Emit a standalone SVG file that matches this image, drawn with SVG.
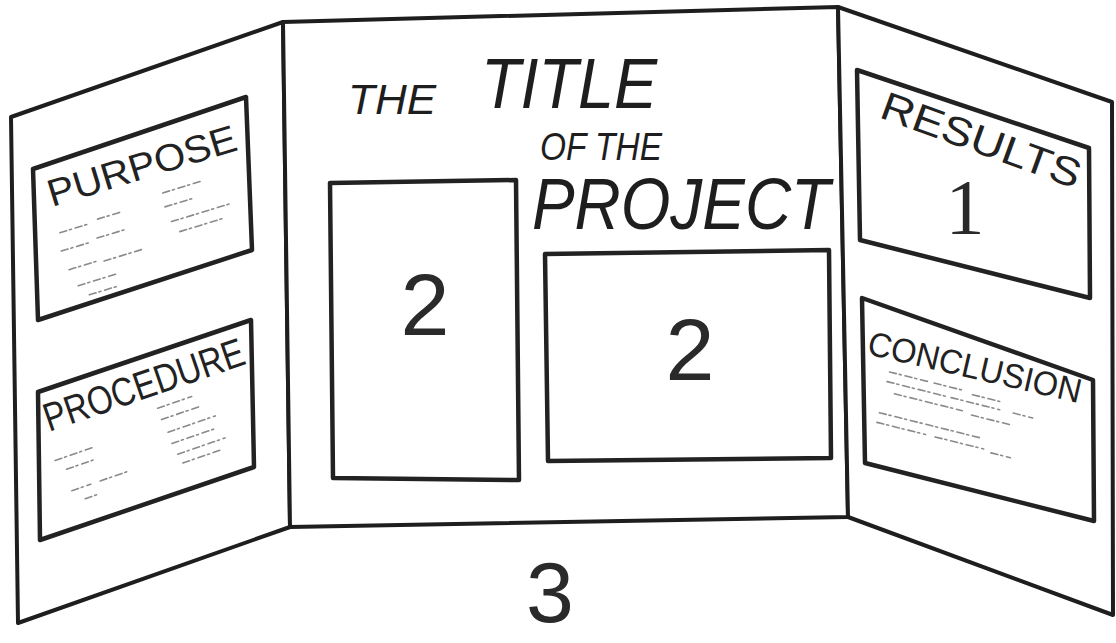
<svg xmlns="http://www.w3.org/2000/svg" width="1116" height="643" viewBox="0 0 1116 643">
  <style>
    .edge { fill: #ffffff; stroke: #1e1e1e; stroke-width: 4; stroke-linejoin: round; }
    .box { fill: #ffffff; stroke: #222222; stroke-width: 4.5; stroke-linejoin: round; }
    .lbl { font-family: "Liberation Sans", Arial, sans-serif; fill: #222222; }
    .hand { font-family: "Liberation Sans", Arial, sans-serif; font-style: italic; fill: #1e1e1e; }
    .num { font-family: "Liberation Sans", Arial, sans-serif; fill: #2a2a2a; }
    .scrib { fill: none; stroke: #8a8a8a; stroke-width: 1.6; stroke-dasharray: 7 3 2 4; stroke-linecap: round; }
  </style>
  <rect x="0" y="0" width="1116" height="643" fill="#ffffff"/>

  <g id="panel-left">
    <polygon class="edge" points="11,117 283,22 290,527 18,623"/>
    <g id="box-purpose">
      <polygon class="box" points="33,169 246,97 252,250 38,320"/>
      <text class="lbl" x="0" y="0" font-size="38" textLength="196" lengthAdjust="spacingAndGlyphs" transform="translate(52,207) rotate(-17)">PURPOSE</text>
      <g transform="translate(48,228) rotate(-17)">
        <path class="scrib" d="M10,8 h30 M50,6 h25 M120,0 h40 M118,14 h30 M6,26 h28 M44,24 h30 M120,30 h60 M125,42 h48 M8,46 h30 M44,48 h40 M12,64 h40 M20,76 h30"/>
      </g>
    </g>
    <g id="box-procedure">
      <polygon class="box" points="38,392 251,320 254,467 40,540"/>
      <text class="lbl" x="0" y="0" font-size="40" textLength="210" lengthAdjust="spacingAndGlyphs" transform="translate(49,432) rotate(-19)">PROCEDURE</text>
      <g transform="translate(50,458) rotate(-19)">
        <path class="scrib" d="M4,4 h40 M12,16 h30 M10,38 h20 M40,38 h30 M20,50 h12 M118,-12 h36 M118,0 h40 M120,14 h50 M120,26 h48 M122,38 h50 M124,48 h40"/>
      </g>
    </g>
  </g>

  <g id="panel-center">
    <polygon class="edge" points="283,22 838,7 848,517 290,527"/>
    <g id="title">
      <text class="hand" x="348" y="114" font-size="42" textLength="88" lengthAdjust="spacingAndGlyphs">THE</text>
      <text class="hand" x="481" y="108" font-size="70" textLength="176" lengthAdjust="spacingAndGlyphs">TITLE</text>
      <text class="hand" x="540" y="160" font-size="38" textLength="122" lengthAdjust="spacingAndGlyphs">OF THE</text>
      <text class="hand" x="532" y="229" font-size="72" textLength="298" lengthAdjust="spacingAndGlyphs">PROJECT</text>
    </g>
    <g id="box-tall">
      <polygon class="box" points="330,183 516,180 519,480 333,478"/>
      <text class="num" x="425" y="335" font-size="88" text-anchor="middle">2</text>
    </g>
    <g id="box-wide">
      <polygon class="box" points="545,254 829,250 831,458 548,461"/>
      <text class="num" x="690" y="380" font-size="88" text-anchor="middle">2</text>
    </g>
    <text id="label-3" class="num" x="550" y="622" font-size="86" text-anchor="middle">3</text>
  </g>

  <g id="panel-right">
    <polygon class="edge" points="838,7 1112,102 1113,615 848,517"/>
    <g id="box-results">
      <polygon class="box" points="857,70 1089,148 1090,298 860,240"/>
      <text class="lbl" x="0" y="0" font-size="40" textLength="210" lengthAdjust="spacingAndGlyphs" transform="translate(878,117) rotate(20)">RESULTS</text>
      <text class="num" x="965" y="233" font-size="78" text-anchor="middle" style="font-family:'Liberation Serif',serif">1</text>
    </g>
    <g id="box-conclusion">
      <polygon class="box" points="862,298 1093,380 1094,521 865,463"/>
      <text class="lbl" x="0" y="0" font-size="34" textLength="218" lengthAdjust="spacingAndGlyphs" transform="translate(866,354) rotate(13)">CONCLUSION</text>
      <g transform="translate(890,370) rotate(14)">
        <path class="scrib" d="M0,2 h40 M46,2 h30 M86,4 h30 M0,12 h60 M66,12 h50 M130,12 h20 M10,22 h70 M90,24 h40 M0,44 h60 M64,44 h40 M0,54 h50 M60,54 h50 M118,56 h20"/>
      </g>
    </g>
  </g>
</svg>
